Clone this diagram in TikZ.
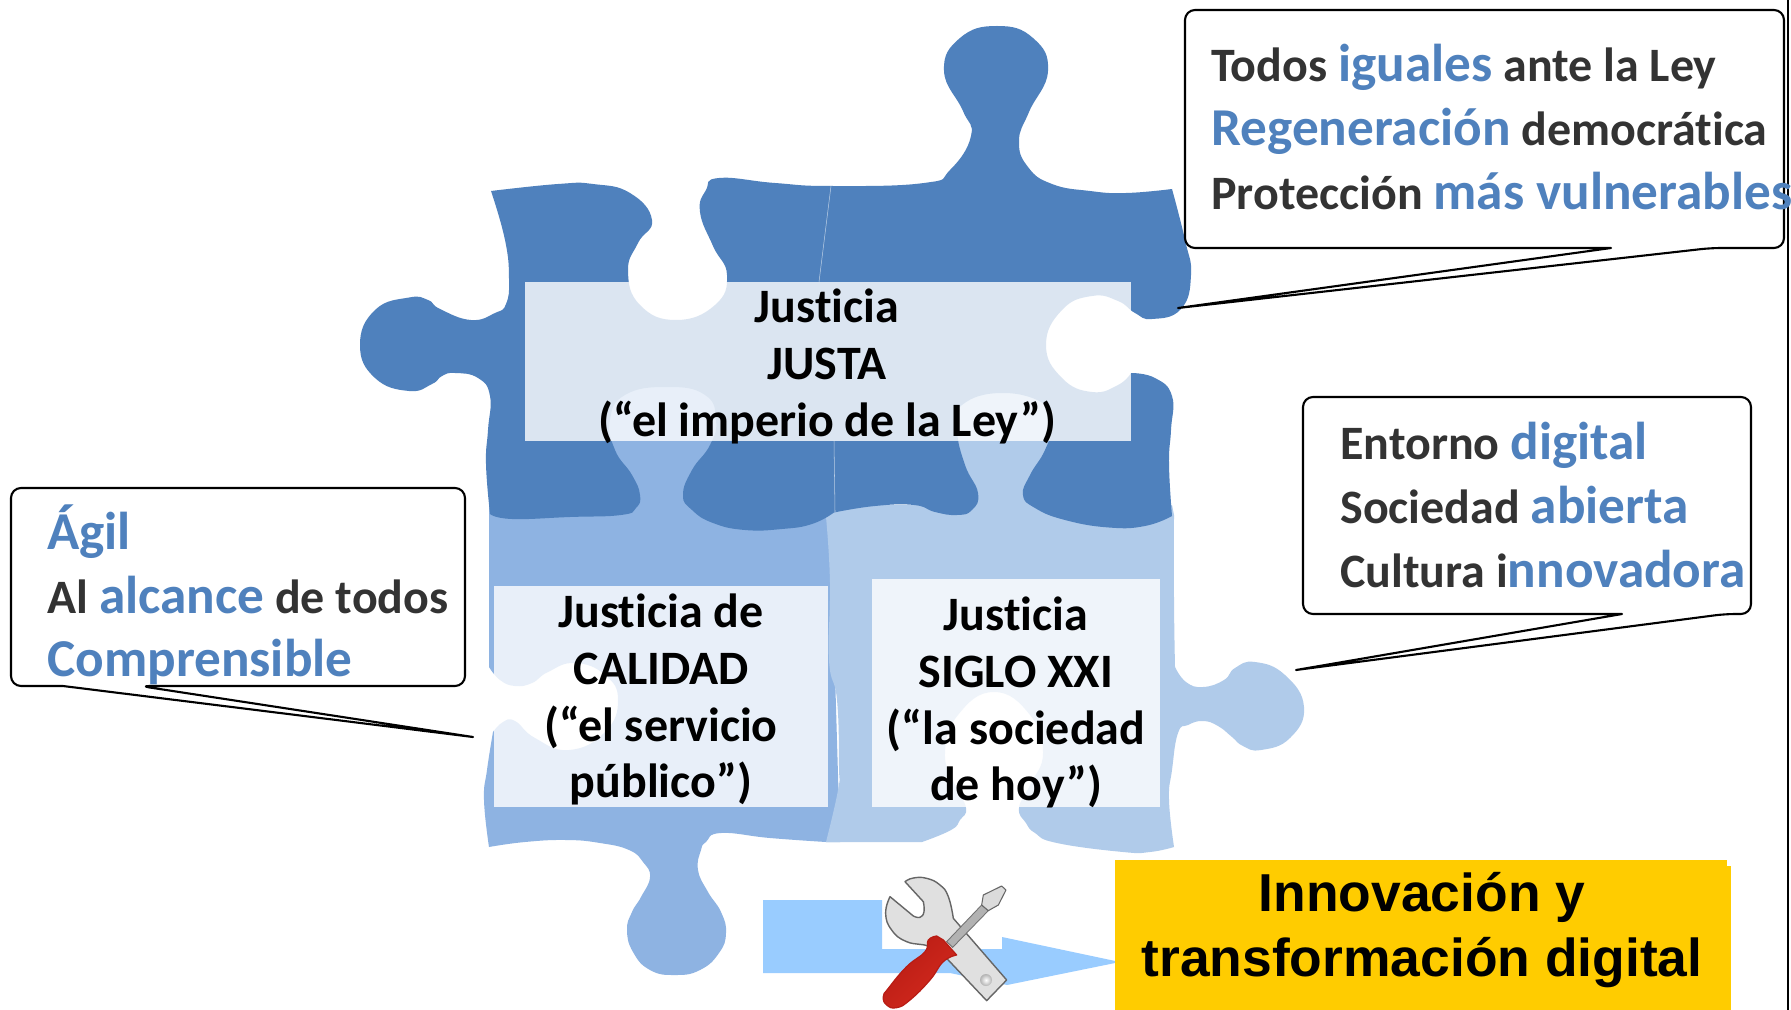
\documentclass[tikz,border=0pt]{standalone}
\usepackage{fontspec}
\setmainfont{Carlito}[BoldFont=Carlito Bold,Ligatures=NoCommon]
\newfontfamily\arialb{Liberation Sans Bold}
\definecolor{pdark}{HTML}{4F81BD}
\definecolor{pmed}{HTML}{8EB3E2}
\definecolor{plight}{HTML}{B0CBEA}
\definecolor{txtg}{HTML}{333333}
\definecolor{arrowb}{HTML}{99CCFF}
\definecolor{yel}{HTML}{FFCC00}
\definecolor{hred}{HTML}{D42A1E}
\definecolor{hredlight}{HTML}{F09A90}
\definecolor{hreddark}{HTML}{B81C14}
\newcommand{\bl}[1]{{\fontsize{30.3}{36.4}\selectfont\textcolor{pdark}{#1}}}
\tikzset{
  callout/.style={draw=black,line width=1.2pt,fill=white,line join=round},
  veil/.style={fill=white,fill opacity=.8},
  puzzletxt/.style={align=center,font=\fontsize{27.3}{32.4}\selectfont\bfseries,text=black,inner sep=0pt},
  sidetxt/.style={align=left,font=\fontsize{27.3}{36.4}\selectfont\bfseries,text=txtg,inner sep=0pt,anchor=north west},
}
\begin{document}
\begin{tikzpicture}[x=.02cm,y=-.02cm,tension=.8]
\useasboundingbox (0,0) rectangle (1791,1010);
\fill[white] (0,0) rectangle (1791,1010);
% page edge
\draw[black,line width=1.2pt] (1788,0) -- (1788,1010);
% medium piece
\fill[pmed] (489,505) -- (600,505) -- (600,380) -- (735,380) -- (735,505) -- (830,505) -- (840,842) -- (826,842)
  -- plot[smooth] coordinates {(826,842) (770,838) (721,833) (706,842) (701,850) (698,870) (708,892) (721,912) (726,933) (719,953) (700,970) (675,975) (650,970) (633,952) (627,930) (632,912) (641,897) (650,877) (643,862) (629,850) (600,843) (566,840) (525,842) (489,847)}
  -- plot[smooth] coordinates {(489,847) (484,800) (487,770) (493,732)}
  -- plot[smooth] coordinates {(493,732) (503,722) (515,721) (535,738) (569,750) (605,732) (618,700) (605,675) (575,663) (548,672) (532,683) (515,686) (500,680) (489,667)}
  -- cycle;
% light piece
\fill[plight] (826,505) -- (950,505) -- (950,385) -- (1060,385) -- (1060,505) -- (1172,505) -- (1174,515)
  -- plot[smooth] coordinates {(1174,515) (1174,600) (1175,667)}
  -- plot[smooth] coordinates {(1175,667) (1186,682) (1203,687) (1224,680) (1235,668) (1255,662) (1285,675) (1304,707) (1290,738) (1261,750) (1243,746) (1232,737) (1218,726) (1203,721) (1188,725) (1178,733) (1172,770) (1169,800) (1174,847)}
  -- plot[smooth] coordinates {(1174,847) (1150,852) (1123,852) (1057,843) (1035,833) (1026,823) (1019,808) (1030,785) (1043,753) (1030,715) (994,692) (958,715) (945,753) (955,785) (966,808) (960,820) (951,830) (922,842)}
  -- (826,842)
  -- plot[smooth] coordinates {(826,842) (838,790) (839,767) (837,700) (829,660) (830,583) (826,517)}
  -- cycle;
% dark piece
\fill[pdark]
  plot[smooth] coordinates {(491,191) (558,184) (593,184) (630,193) (652,220) (638,243) (628,271) (640,305) (676,320) (715,305) (727,275) (713,246) (700,212) (706,190) (719,178) (775,183) (831,186) (924,183) (950,170) (971,136) (963,111) (944,71) (960,38) (997,26) (1033,38) (1048,71) (1029,112) (1019,141) (1028,167) (1052,184) (1090,191) (1126,193) (1172,189)}
  -- plot[smooth] coordinates {(1172,189) (1185,240) (1191,275) (1181,309) (1152,319) (1135,313) (1118,301) (1092,296) (1062,310) (1046,345) (1062,378) (1092,392) (1118,385) (1131,373)}
  -- plot[smooth] coordinates {(1131,373) (1155,378) (1172,396) (1171,430) (1169,464) (1172,516)}
  -- plot[smooth] coordinates {(1172,516) (1145,526) (1109,527.5) (1065,520) (1035,508) (1023,495) (1030,475) (1045,450) (1052,425) (1046,405) (1003,393) (962,405) (957,430) (965,465) (978,493) (972,510) (957,515) (935,512) (914,505) (875,506) (834,512.5)}
  -- plot[smooth] coordinates {(834,512.5) (812,524) (782,529) (745,530) (713,523) (692,510) (683,495) (692,470) (710,445) (716,420) (705,395) (667,387) (625,395) (610,420) (615,450) (632,475) (640,495) (636,508) (621,515) (570,517) (512,519) (490,514)}
  -- plot[smooth] coordinates {(490,514) (486,464) (488,430) (490,396) (478,378) (455,373) (442,376) (432,384) (409,391) (375,378) (360,345) (375,310) (409,297.5) (428,300) (440,309) (471,320) (495,313) (506,304) (509,279) (505,240) (491,191)}
  -- cycle;
\draw[white,line width=.3pt,opacity=.6] (831,186) -- (819,282);
\draw[white,line width=.3pt,opacity=.6] (834,441) -- (835,512);
% veils
\path[veil] (525,282) rectangle (1131,441);
\path[veil] (494,586) rectangle (828,807);
\path[veil] (872,579) rectangle (1160,807);
% puzzle texts
\node[puzzletxt] (justa) at (827,366.5) {Justicia\\JUSTA\\(“el imperio de la Ley”)};
\node[puzzletxt] (calidad) at (661,699.5) {Justicia de\\CALIDAD\\(“el servicio\\público”)};
\node[puzzletxt] (siglo) at (1016,702.5) {Justicia\\SIGLO XXI\\(“la sociedad\\de hoy”)};
% callouts
\draw[callout] [rounded corners=5.7pt] (1185,248) -- (1185,10) -- (1784,10) -- (1784,248) -- (1711,248) [sharp corners] -- (1178,308) -- (1611,248) [rounded corners=5.7pt] -- cycle;
\draw[callout] [rounded corners=5.7pt] (1303,614) -- (1303,397) -- (1751,397) -- (1751,614) -- (1725,614) [sharp corners] -- (1296,670) -- (1622,614) [rounded corners=5.7pt] -- cycle;
\draw[callout] [rounded corners=5.7pt] (11,686) -- (11,488) -- (465,488) -- (465,686) -- (140,686) [sharp corners] -- (473,737) -- (63,686) [rounded corners=5.7pt] -- cycle;
\node[sidetxt] (t1) at (1211,44) {Todos \bl{iguales} ante la Ley\\\bl{Regeneración} democrática\\Protección \bl{más vulnerables}};
\node[sidetxt] (t2) at (1340,422) {Entorno \bl{digital}\\Sociedad \bl{abierta}\\Cultura i\bl{nnovadora}};
\node[sidetxt] (t3) at (47,504) {\bl{Ágil}\\Al \bl{alcance} de todos\\\bl{Comprensible}};
% arrow
\fill[arrowb] (763,900) -- (882,900) -- (882,949) -- (1002,949) -- (1002,937) -- (1120,962) -- (1007,985) -- (950,973) -- (763,973) -- cycle;
% yellow box
\fill[yel] (1115,860) rectangle (1727,1010);
\fill[yel] (1115,866) rectangle (1731,1010);
\node[align=center,font=\fontsize{30.4}{37}\selectfont\arialb,text=black,inner sep=0pt] (innov) at (1422,930) {Innovación y\\transformación digital};
% tools icon
\begin{scope}[shift={(740,840)},x=.00667cm,y=-.00667cm]
\filldraw[fill=black!12,draw=black!60,line width=.8pt,line join=round]
  plot[smooth] coordinates {(495,125) (520,114) (560,115) (600,135) (625,170) (640,235)} -- (800,420) -- (740,482) -- (620,355)
  -- plot[smooth] coordinates {(620,355) (570,320) (500,305) (455,270) (437,220) (450,170)} -- (520,228)
  -- plot[smooth] coordinates {(520,228) (540,232) (552,215) (550,185)} -- cycle;
\shade[inner color=white,outer color=black!30] (738,420) circle (18);
\filldraw[fill=black!30,draw=black!55,line width=.5pt] (620,305) -- (725,195) -- (745,212) -- (638,322) -- cycle;
\filldraw[fill=black!14,draw=black!60,line width=.6pt,line join=round] (725,195) -- (730,165) -- (785,138) -- (798,150) -- (775,195) -- (745,212) -- cycle;
\shade[left color=hreddark,middle color=hredlight,right color=hred,shading angle=45]
  plot[smooth] coordinates {(590,288) (565,300) (555,335) (500,380) (445,445) (430,470) (440,495) (470,503) (510,480) (570,420) (610,365) (650,345)} -- (610,300) -- cycle;
\draw[hreddark,line width=.7pt,line join=round]
  plot[smooth] coordinates {(590,288) (565,300) (555,335) (500,380) (445,445) (430,470) (440,495) (470,503) (510,480) (570,420) (610,365) (650,345)} -- (610,300) -- cycle;
\end{scope}
\end{tikzpicture}
\end{document}
